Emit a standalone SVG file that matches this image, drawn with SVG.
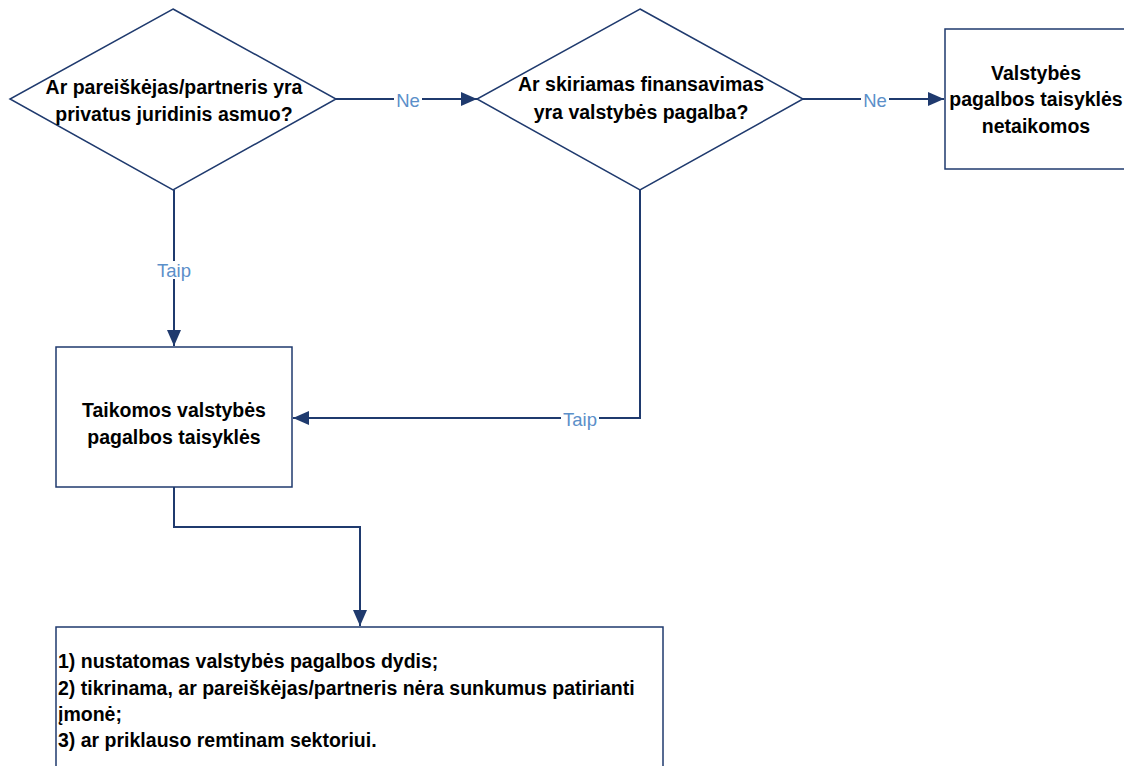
<svg xmlns="http://www.w3.org/2000/svg" width="1124" height="766" viewBox="0 0 1124 766">
<style>
.shape{fill:#fff;stroke:#1f3a6e;stroke-width:1.5}
.t{font-family:"Liberation Sans",Arial,sans-serif;font-weight:bold;font-size:19.5px;fill:#000}
.c{text-anchor:middle}
.conn{fill:none;stroke:#1f3a6e;stroke-width:2}
.lbl{font-family:"Liberation Sans",Arial,sans-serif;font-size:18.5px;fill:#5b8fc9;text-anchor:middle;dominant-baseline:central}
.bg{fill:#fff}
</style>
<defs>
<marker id="a" viewBox="0 0 16 14" refX="16" refY="7" markerWidth="16" markerHeight="14" markerUnits="userSpaceOnUse" orient="auto">
<path d="M0,0 L16,7 L0,14 z" fill="#1f3a6e"/>
</marker>
</defs>
<rect width="1124" height="766" fill="#fff"/>
<g id="connectors">
<path class="conn" d="M336,99 H477" marker-end="url(#a)"/>
<path class="conn" d="M803,99 H944" marker-end="url(#a)"/>
<path class="conn" d="M174,190 V346" marker-end="url(#a)"/>
<path class="conn" d="M640,190 V418 H293" marker-end="url(#a)"/>
<path class="conn" d="M174,487 V527 H360 V626" marker-end="url(#a)"/>
<rect class="bg" x="394" y="90" width="28" height="18"/>
<text class="lbl" x="408" y="100">Ne</text>
<rect class="bg" x="861" y="90" width="28" height="18"/>
<text class="lbl" x="875" y="100">Ne</text>
<rect class="bg" x="155" y="261" width="38" height="18"/>
<text class="lbl" x="174" y="270">Taip</text>
<rect class="bg" x="561" y="409" width="38" height="18"/>
<text class="lbl" x="580" y="419">Taip</text>
</g>
<g id="q1">
<polygon class="shape" points="173,9 336,99 173,190 10,99"/>
<text class="t c" x="174" y="94">Ar pareiškėjas/partneris yra</text>
<text class="t c" x="174" y="121">privatus juridinis asmuo?</text>
</g>
<g id="q2">
<polygon class="shape" points="640,9 803,99 640,190 477,99"/>
<text class="t c" x="641" y="91">Ar skiriamas finansavimas</text>
<text class="t c" x="641" y="119">yra valstybės pagalba?</text>
</g>
<g id="n_netaikomos">
<rect class="shape" x="945" y="29" width="200" height="140"/>
<text class="t c" x="1036" y="80">Valstybės</text>
<text class="t c" x="1036" y="106">pagalbos taisyklės</text>
<text class="t c" x="1036" y="133">netaikomos</text>
</g>
<g id="n_taikomos">
<rect class="shape" x="56" y="347" width="236" height="140"/>
<text class="t c" x="174" y="417">Taikomos valstybės</text>
<text class="t c" x="174" y="444">pagalbos taisyklės</text>
</g>
<g id="n_list">
<rect class="shape" x="56" y="627" width="607" height="150"/>
<text class="t" x="58" y="668">1) nustatomas valstybės pagalbos dydis;</text>
<text class="t" x="58" y="695">2) tikrinama, ar pareiškėjas/partneris nėra sunkumus patirianti</text>
<text class="t" x="58" y="721">įmonė;</text>
<text class="t" x="58" y="747">3) ar priklauso remtinam sektoriui.</text>
</g>
</svg>
